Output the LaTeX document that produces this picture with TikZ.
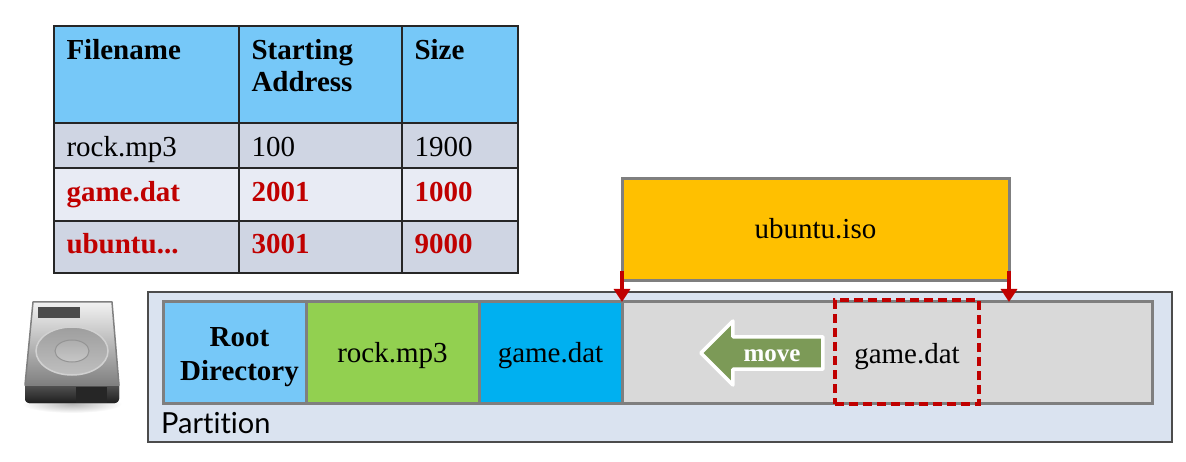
\documentclass[tikz,border=0pt]{standalone}
\usepackage{fontspec}
\setmainfont{Liberation Serif}
\newfontfamily\partfont[Ligatures=NoCommon]{Lato}
\usetikzlibrary{arrows.meta,positioning,shapes.arrows}
\definecolor{HeadBlue}{HTML}{76C8F8}
\definecolor{RowDark}{HTML}{CFD5E3}
\definecolor{RowPale}{HTML}{E8EBF4}
\definecolor{AlertRed}{HTML}{C00000}
\definecolor{PartBlue}{HTML}{DAE3F0}
\definecolor{SegGray}{HTML}{7F7F7F}
\definecolor{FreeGray}{HTML}{D9D9D9}
\definecolor{RockGreen}{HTML}{92D050}
\definecolor{GameBlue}{HTML}{00B0F0}
\definecolor{IsoGold}{HTML}{FFC000}
\definecolor{MoveGreen}{HTML}{7C9A57}
\tikzset{
  cell/.style={draw=black!85,line width=1.6pt,inner xsep=12.5pt,inner ysep=0pt,outer sep=0pt,align=left,font=\fontsize{29}{32}\selectfont},
  colA/.style={cell,text width=160pt},
  colB/.style={cell,text width=138pt},
  colC/.style={cell,text width=91pt},
  rowHead/.style={fill=HeadBlue,text height=34pt,text depth=63pt,font=\fontsize{29}{32}\selectfont\bfseries},
  rowOne/.style={fill=RowDark,text height=34pt,text depth=11pt},
  rowTwo/.style={fill=RowPale,text height=34pt,text depth=19pt,text=AlertRed,font=\fontsize{29}{32}\selectfont\bfseries},
  rowThree/.style={fill=RowDark,text height=33pt,text depth=19pt,text=AlertRed,font=\fontsize{29}{32}\selectfont\bfseries},
  seg/.style={draw=SegGray,line width=3pt,outer sep=0pt,inner sep=0pt,text height=60pt,text depth=41pt,align=center,font=\fontsize{29}{34}\selectfont},
  place/.style={-{Triangle[length=13pt,width=16pt]},line width=4pt,draw=AlertRed}
}
\begin{document}
\begin{tikzpicture}[x=1pt,y=-1pt]
  \useasboundingbox (0,0) rectangle (1186,462);
  % table
  \node[colA,rowHead,anchor=north west] (headName) at (54,26) {Filename};
  \node[colB,rowHead,right=0pt of headName] (headAddr) {Starting\\Address};
  \node[colC,rowHead,right=0pt of headAddr] (headSize) {Size};
  \node[colA,rowOne,below=0pt of headName] (rockName) {rock.mp3};
  \node[colB,rowOne,right=0pt of rockName] (rockAddr) {100};
  \node[colC,rowOne,right=0pt of rockAddr] (rockSize) {1900};
  \node[colA,rowTwo,below=0pt of rockName] (gameName) {game.dat};
  \node[colB,rowTwo,right=0pt of gameName] (gameAddr) {2001};
  \node[colC,rowTwo,right=0pt of gameAddr] (gameSize) {1000};
  \node[colA,rowThree,below=0pt of gameName] (isoName) {ubuntu...};
  \node[colB,rowThree,right=0pt of isoName] (isoAddr) {3001};
  \node[colC,rowThree,right=0pt of isoAddr] (isoSize) {9000};
  % disk icon
  \shade[inner color=black!28,outer color=white] (72,404) ellipse (50 and 9);
  \fill[top color=black!62,bottom color=black!88,rounded corners=4pt] (25,380) -- (119,380) -- (119,403) -- (25,403) -- cycle;
  \fill[black!85] (76,387) rectangle (107,403);
  \draw[black!50,line width=1.5pt,top color=black!5,bottom color=black!50,line join=round] (33,302) -- (112,302) -- (119,385) -- (25,385) -- cycle;
  \fill[black!70] (38,307) rectangle (80,318);
  \draw[black!18,line width=1.5pt,top color=black!38,bottom color=black!25] (72,351) ellipse (36 and 24);
  \draw[black!42,line width=1pt,top color=black!32,bottom color=black!22] (72,351) ellipse (17 and 11);
  % partition
  \node[draw=black!70,line width=1.4pt,fill=PartBlue,minimum width=1024pt,minimum height=150pt,outer sep=0pt,anchor=north west] (partition) at (148,292) {};
  \node[anchor=base west,inner sep=0pt,font=\partfont\fontsize{29}{32}\selectfont] (partLabel) at (161,433) {Partition};
  \node[seg,fill=HeadBlue,minimum width=143pt,text height=78pt,text depth=23pt,anchor=north west,font=\fontsize{29}{34}\selectfont\bfseries] (root) at (163,302) {\hspace*{10pt}Root\\\hspace*{10pt}Directory};
  \node[seg,fill=RockGreen,minimum width=173pt,right=0pt of root] (rock) {rock.mp3};
  \node[seg,fill=GameBlue,minimum width=143pt,right=0pt of rock] (game) {game.dat};
  \node[seg,fill=FreeGray,minimum width=530pt,right=0pt of game] (free) {};
  % new file
  \node[seg,fill=IsoGold,minimum width=387pt,text height=60pt,text depth=42pt,anchor=north west] (iso) at (622,179) {ubuntu.iso};
  \draw[place] ([yshift=10pt]iso.south west) -- (free.north west);
  \draw[place] ([yshift=10pt]iso.south east) -- (iso.south east |- free.north);
  % old place of the file
  \node[draw=AlertRed,line width=4.5pt,dash pattern=on 9pt off 5pt,minimum width=144pt,text height=63pt,text depth=41pt,inner sep=0pt,outer sep=0pt,font=\fontsize{29}{32}\selectfont,anchor=north west] (oldGame) at (835,300) {game.dat};
  \node[single arrow,shape border rotate=180,draw=white,line width=3.5pt,line join=round,fill=MoveGreen,text=white,inner sep=0pt,minimum width=64pt,minimum height=122pt,single arrow head extend=12pt,single arrow tip angle=90,font=\fontsize{25}{28}\selectfont\bfseries] (moveArrow) at (770,353) {\hspace*{4pt}\raisebox{-2pt}[17pt][4pt]{move}};
\end{tikzpicture}
\end{document}
